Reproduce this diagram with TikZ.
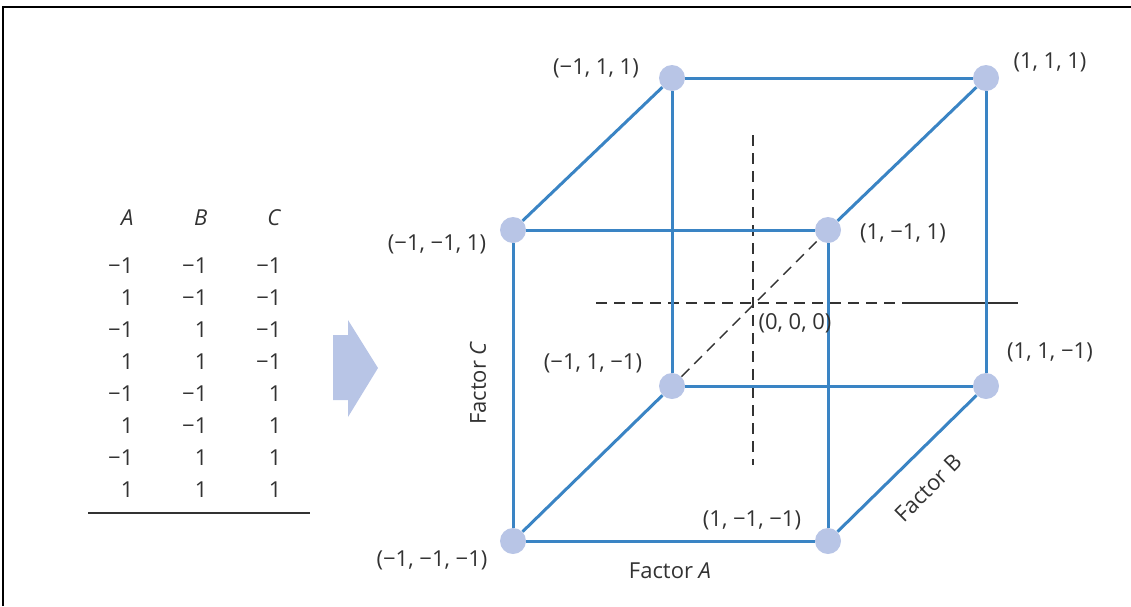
\documentclass[tikz,border=0pt]{standalone}
\usepackage{fontspec}
\usepackage{array}
\setmainfont{Open Sans}
\usetikzlibrary{positioning}

\definecolor{edgeblue}{RGB}{58,132,196}
\definecolor{dotblue}{RGB}{184,197,230}
\definecolor{txtgray}{RGB}{50,50,50}

\begin{document}
\begin{tikzpicture}[x=0.5pt, y=-0.5pt, font=\fontsize{11}{16}\selectfont, text=txtgray,
  vertex/.style={circle, fill=dotblue, inner sep=0pt, minimum size=13pt},
  edge/.style={draw=edgeblue, line width=1.5pt},
  axis/.style={draw=black!80, line width=0.7pt, dash pattern=on 5.5pt off 3.5pt},
  coordlabel/.style={inner sep=0pt}]
\useasboundingbox (0,0) rectangle (1131,606);
\draw[line width=1pt] (3,606) -- (3,7) -- (1131,7);

% design table
\node[inner sep=0pt, anchor=base west] (table) at (59,225) {%
  \setlength{\tabcolsep}{0pt}%
  \begin{tabular}[t]{*{3}{>{\raggedleft\arraybackslash}p{37pt}}}
  \textit{A} & \textit{B} & \textit{C}\\[8pt]
  −1 & −1 & −1\\
  1 & −1 & −1\\
  −1 & 1 & −1\\
  1 & 1 & −1\\
  −1 & −1 & 1\\
  1 & −1 & 1\\
  −1 & 1 & 1\\
  1 & 1 & 1
  \end{tabular}};
\draw[line width=1pt, black!80] (88,513) -- (310,513);

% block arrow
\fill[dotblue] (333,335) -- (348,335) -- (348,320) -- (378,368) -- (348,417) -- (348,400) -- (333,400) -- cycle;

% cube corners
\node[vertex] (fTL) at (513,230) {};
\node[vertex] (fTR) at (828,230) {};
\node[vertex] (fBL) at (513,541) {};
\node[vertex] (fBR) at (828,541) {};
\node[vertex] (bTL) at (672,78) {};
\node[vertex] (bTR) at (986,78) {};
\node[vertex] (bBL) at (672,386) {};
\node[vertex] (bBR) at (986,386) {};

% centre axes
\coordinate (origin) at (753,303);
\coordinate (hleft) at (596,303);
\coordinate (hmid) at (905,303);
\coordinate (hright) at (1018,303);
\coordinate (vtop) at (753,135);
\coordinate (vbot) at (753,465);
\draw[axis] (hleft) -- (hmid);
\draw[black!80, line width=0.7pt] (hmid) -- (hright);
\draw[axis] (vtop) -- (vbot);
\draw[axis] (bBL) -- (fTR);

% cube edges
\draw[edge] (fTL) -- (fTR);
\draw[edge] (fTR) -- (fBR);
\draw[edge] (fBR) -- (fBL);
\draw[edge] (fBL) -- (fTL);
\draw[edge] (bTL) -- (bTR);
\draw[edge] (bTR) -- (bBR);
\draw[edge] (bBR) -- (bBL);
\draw[edge] (bBL) -- (bTL);
\draw[edge] (fTL) -- (bTL);
\draw[edge] (fTR) -- (bTR);
\draw[edge] (fBL) -- (bBL);
\draw[edge] (fBR) -- (bBR);

% corner labels
\node[coordlabel] (lbTL) at (596,68) {(−1, 1, 1)};
\node[coordlabel] (lbTR) at (1050,62) {(1, 1, 1)};
\node[coordlabel] (lfTL) at (437,244) {(−1, −1, 1)};
\node[coordlabel] (lfTR) at (903,233) {(1, −1, 1)};
\node[coordlabel] (lorigin) at (795,323) {(0, 0, 0)};
\node[coordlabel] (lbBR) at (1050,352) {(1, 1, −1)};
\node[coordlabel] (lbBL) at (593,363) {(−1, 1, −1)};
\node[coordlabel] (lfBR) at (752,520) {(1, −1, −1)};
\node[coordlabel] (lfBL) at (432,560) {(−1, −1, −1)};

% factor labels
\node[coordlabel] (factA) at (670,571) {Factor \textit{A}};
\node[coordlabel, rotate=90] (factC) at (478,383) {Factor \textit{C}};
\node[coordlabel, rotate=45] (factB) at (928,488) {Factor B};
\end{tikzpicture}
\end{document}
